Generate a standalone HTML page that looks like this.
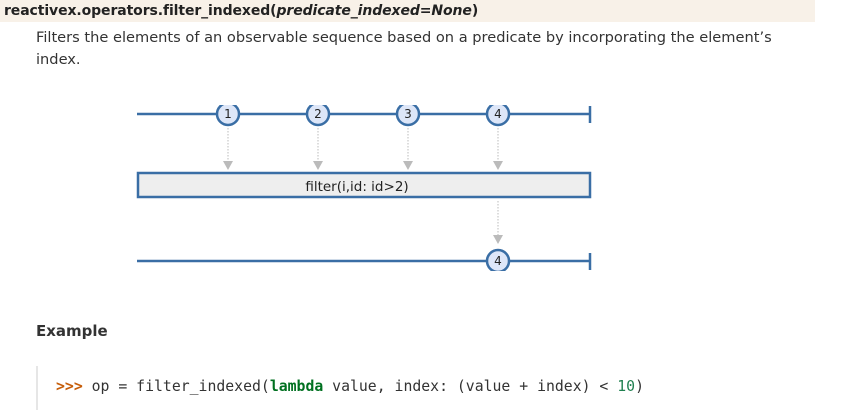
<!DOCTYPE html>
<html><head><style>
body{margin:0;width:848px;height:410px;background:#fff;overflow:hidden;position:relative;font-family:"DejaVu Sans",sans-serif;}
.hdr{position:absolute;left:0;top:0;width:815px;height:22px;background:#f8f1e8;}
.hdr span{position:absolute;left:4px;top:3px;font-weight:bold;font-size:14px;color:#222;white-space:nowrap;letter-spacing:-0.1px;}
.desc{position:absolute;left:36px;top:27px;font-size:14.6px;line-height:22px;color:#333;width:770px;}
.ex{position:absolute;left:36px;top:322px;font-weight:bold;font-size:15px;color:#333;}
.code{position:absolute;left:36px;top:366px;height:44px;border-left:2px solid #e6e6e6;}
.code pre{margin:0;position:absolute;left:18px;top:12px;font-family:"DejaVu Sans Mono",monospace;font-size:14.8px;color:#333;white-space:pre;}
</style></head><body>
<div class="hdr"><span>reactivex.operators.filter_indexed(<i>predicate_indexed</i>=<i>None</i>)</span></div>
<div class="desc">Filters the elements of an observable sequence based on a predicate by incorporating the element’s index.</div>
<svg style="position:absolute;left:0;top:0" width="848" height="410">
<defs><clipPath id="c"><rect x="0" y="105" width="848" height="166"/></clipPath></defs>
<g clip-path="url(#c)">
<line x1="137" y1="114" x2="590" y2="114" stroke="#3a6ea5" stroke-width="2.5"/>
<line x1="590" y1="106" x2="590" y2="123" stroke="#3a6ea5" stroke-width="2.5"/>
<line x1="137" y1="261" x2="590" y2="261" stroke="#3a6ea5" stroke-width="2.5"/>
<line x1="590" y1="253" x2="590" y2="270" stroke="#3a6ea5" stroke-width="2.5"/>
<g stroke="#bbb" stroke-width="1" stroke-dasharray="1.5,1.5">
<line x1="228" y1="128" x2="228" y2="162"/><line x1="318" y1="128" x2="318" y2="162"/>
<line x1="408" y1="128" x2="408" y2="162"/><line x1="498" y1="128" x2="498" y2="162"/>
<line x1="498" y1="201" x2="498" y2="238"/></g>
<g fill="#bbb">
<polygon points="223,161 233,161 228,170"/><polygon points="313,161 323,161 318,170"/>
<polygon points="403,161 413,161 408,170"/><polygon points="493,161 503,161 498,170"/>
<polygon points="493,235 503,235 498,244"/></g>
<rect x="138" y="173" width="452" height="24" fill="#eee" stroke="#3a6ea5" stroke-width="2.5"/>
<text x="357" y="191" font-family="DejaVu Sans,sans-serif" font-size="13.5" text-anchor="middle" fill="#222">filter(i,id: id&gt;2)</text>
<g fill="#dde6f8" stroke="#3a6ea5" stroke-width="2.5">
<circle cx="228" cy="114" r="11"/><circle cx="318" cy="114" r="11"/><circle cx="408" cy="114" r="11"/><circle cx="498" cy="114" r="11"/><circle cx="498" cy="261" r="11"/></g>
<g font-family="DejaVu Sans,sans-serif" font-size="12" text-anchor="middle" fill="#222">
<text x="228" y="118">1</text><text x="318" y="118">2</text><text x="408" y="118">3</text><text x="498" y="118">4</text><text x="498" y="265">4</text></g>
</g></svg>
<div class="ex">Example</div>
<div class="code"><pre><b style="color:#c65d09">&gt;&gt;&gt;</b> op = filter_indexed(<b style="color:#007020">lambda</b> value, index: (value + index) &lt; <span style="color:#208050">10</span>)</pre></div>
</body></html>
